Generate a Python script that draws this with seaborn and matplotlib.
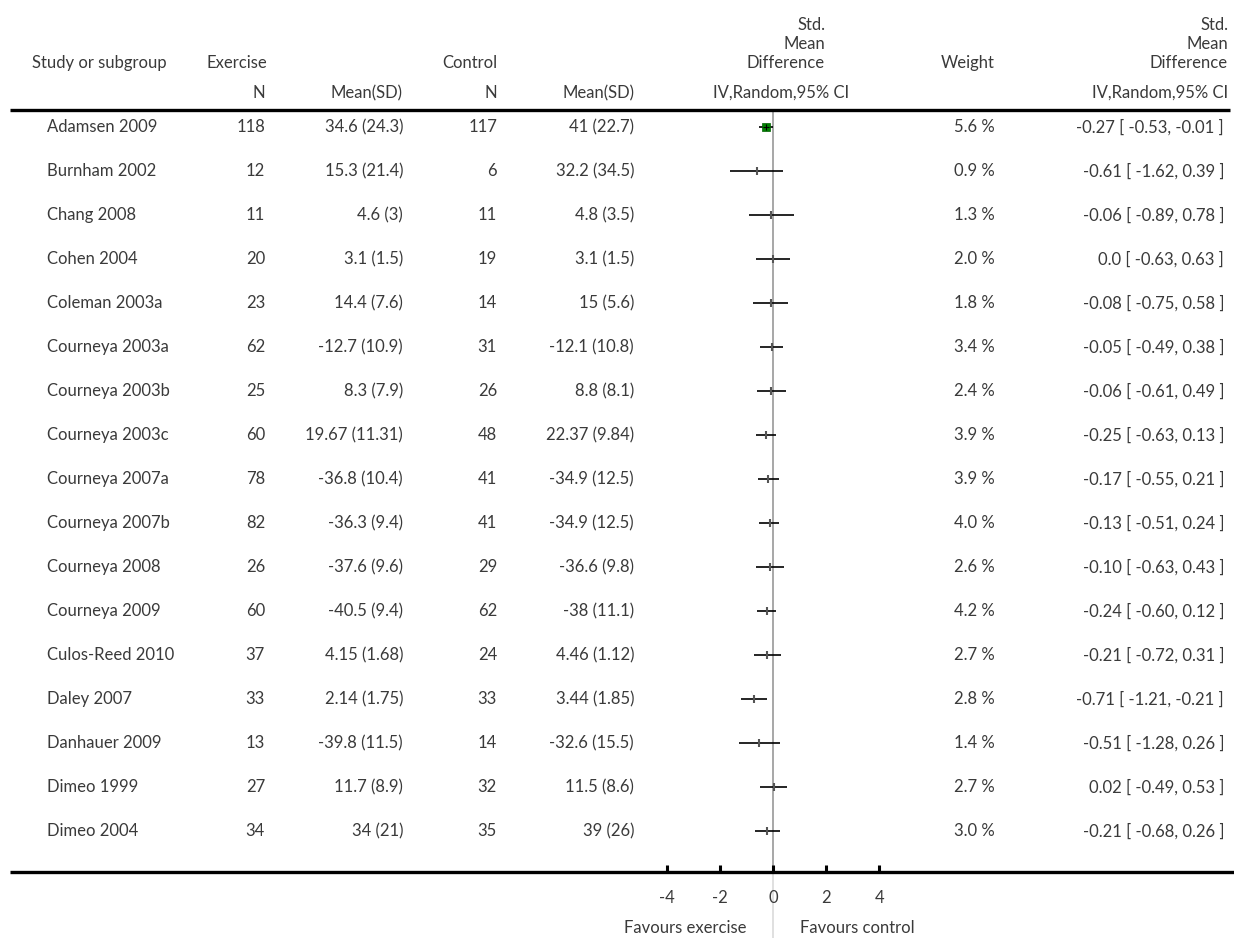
import matplotlib
matplotlib.use("Agg")
import matplotlib.pyplot as plt
import seaborn as sns
import pandas as pd

# ---------------- data ----------------
studies = ["Adamsen 2009", "Burnham 2002", "Chang 2008", "Cohen 2004", "Coleman 2003a",
           "Courneya 2003a", "Courneya 2003b", "Courneya 2003c", "Courneya 2007a",
           "Courneya 2007b", "Courneya 2008", "Courneya 2009", "Culos-Reed 2010",
           "Daley 2007", "Danhauer 2009", "Dimeo 1999", "Dimeo 2004"]
ex_n = [118, 12, 11, 20, 23, 62, 25, 60, 78, 82, 26, 60, 37, 33, 13, 27, 34]
ex_mean = [34.6, 15.3, 4.6, 3.1, 14.4, -12.7, 8.3, 19.67, -36.8, -36.3, -37.6, -40.5, 4.15, 2.14, -39.8, 11.7, 34]
ex_sd = [24.3, 21.4, 3, 1.5, 7.6, 10.9, 7.9, 11.31, 10.4, 9.4, 9.6, 9.4, 1.68, 1.75, 11.5, 8.9, 21]
ctl_n = [117, 6, 11, 19, 14, 31, 26, 48, 41, 41, 29, 62, 24, 33, 14, 32, 35]
ctl_mean = [41, 32.2, 4.8, 3.1, 15, -12.1, 8.8, 22.37, -34.9, -34.9, -36.6, -38, 4.46, 3.44, -32.6, 11.5, 39]
ctl_sd = [22.7, 34.5, 3.5, 1.5, 5.6, 10.8, 8.1, 9.84, 12.5, 12.5, 9.8, 11.1, 1.12, 1.85, 15.5, 8.6, 26]
weight = [5.6, 0.9, 1.3, 2.0, 1.8, 3.4, 2.4, 3.9, 3.9, 4.0, 2.6, 4.2, 2.7, 2.8, 1.4, 2.7, 3.0]
smd = [-0.27, -0.61, -0.06, 0.0, -0.08, -0.05, -0.06, -0.25, -0.17, -0.13, -0.10, -0.24, -0.21, -0.71, -0.51, 0.02, -0.21]
ci_lo = [-0.53, -1.62, -0.89, -0.63, -0.75, -0.49, -0.61, -0.63, -0.55, -0.51, -0.63, -0.60, -0.72, -1.21, -1.28, -0.49, -0.68]
ci_hi = [-0.01, 0.39, 0.78, 0.63, 0.58, 0.38, 0.49, 0.13, 0.21, 0.24, 0.43, 0.12, 0.31, -0.21, 0.26, 0.53, 0.26]
x_ticks = [-4, -2, 0, 2, 4]

df = pd.DataFrame({"study": studies, "smd": smd, "lo": ci_lo, "hi": ci_hi, "weight": weight})
df["row"] = range(len(df))

# ---------------- layout helpers (pixel -> data) ----------------
W, H = 1234, 938
X0, PXU = 773.0, 26.6      # pixel of x=0, pixels per unit
Y0, PXR = 127.0, 44.0      # pixel of first row, pixels per row


def X(px):
    return (px - X0) / PXU


def Y(py):
    return (py - Y0) / PXR


sns.set_style("white")
plt.rcParams["font.family"] = ["Lato", "DejaVu Sans"]
TXT = "#3a3a3a"
FS = 12

fig = plt.figure(figsize=(W / 100, H / 100), dpi=100)
ax = fig.add_axes([0, 0, 1, 1])
ax.set_xlim(X(0), X(W))
ax.set_ylim(Y(H), Y(0))
ax.axis("off")

# zero line
ax.plot([0, 0], [Y(110), Y(872)], color="#a0a0a0", lw=1.3, zorder=1)
ax.plot([0, 0], [Y(872), Y(H)], color="#dddddd", lw=1.3, zorder=1)

# CI lines
ax.hlines(df["row"], df["lo"], df["hi"], color="black", lw=1.2, zorder=3)
# point estimates
big = df[df["weight"] == df["weight"].max()]
small = df[df["weight"] != df["weight"].max()]
sns.scatterplot(data=small, x="smd", y="row", marker="|", s=40, color="#555555",
                linewidth=1.5, ax=ax, zorder=4, legend=False)
sns.scatterplot(data=big, x="smd", y="row", marker="s", s=38, color="#008000",
                edgecolor="#006000", linewidth=0.5, ax=ax, zorder=4, legend=False)
ax.plot(big["smd"], big["row"], marker="+", ms=4.5, color="black", mew=0.8, zorder=5, ls="none")

# header / footer rules
ax.plot([X(10), X(1230)], [Y(110), Y(110)], color="black", lw=2.4, zorder=2, solid_capstyle="butt")
ax.plot([X(10), X(W)], [Y(872), Y(872)], color="black", lw=2.4, zorder=2, solid_capstyle="butt")

# axis ticks
for tk in x_ticks:
    ax.plot([tk, tk], [Y(865), Y(872)], color="black", lw=2.2, solid_capstyle="butt", zorder=2)
    ax.text(tk, Y(898), f"{tk}", ha="center", va="center", fontsize=FS, color=TXT)
ax.text(X(746), Y(928), "Favours exercise", ha="right", va="center", fontsize=FS, color=TXT)
ax.text(X(800), Y(928), "Favours control", ha="left", va="center", fontsize=FS, color=TXT)


def t(px, py, s, ha="right"):
    ax.text(X(px), Y(py), s, ha=ha, va="center", fontsize=FS, color=TXT)


# headers
t(32, 63, "Study or subgroup", "left")
t(207, 63, "Exercise", "left")
t(265, 93, "N")
t(402, 93, "Mean(SD)")
t(497, 63, "Control")
t(497, 93, "N")
t(634, 93, "Mean(SD)")
for px in (825, 1228):
    t(px, 25, "Std.")
    t(px, 44, "Mean")
    t(px, 63, "Difference")
t(849, 93, "IV,Random,95% CI")
t(1228, 93, "IV,Random,95% CI")
t(995, 63, "Weight")


def num(v):
    return f"{v:g}"


def f2(v):
    return "0.0" if v == 0 else f"{v:.2f}"


# rows
for i in range(len(studies)):
    py = Y0 + PXR * i
    t(47, py, studies[i], "left")
    t(265, py, f"{ex_n[i]}")
    t(403, py, f"{num(ex_mean[i])} ({num(ex_sd[i])})")
    t(497, py, f"{ctl_n[i]}")
    t(634, py, f"{num(ctl_mean[i])} ({num(ctl_sd[i])})")
    t(995, py, f"{weight[i]:.1f} %")
    t(1224, py, f"{f2(smd[i])} [ {f2(ci_lo[i])}, {f2(ci_hi[i])} ]")

fig.savefig("out.png", dpi=100, facecolor="white")
